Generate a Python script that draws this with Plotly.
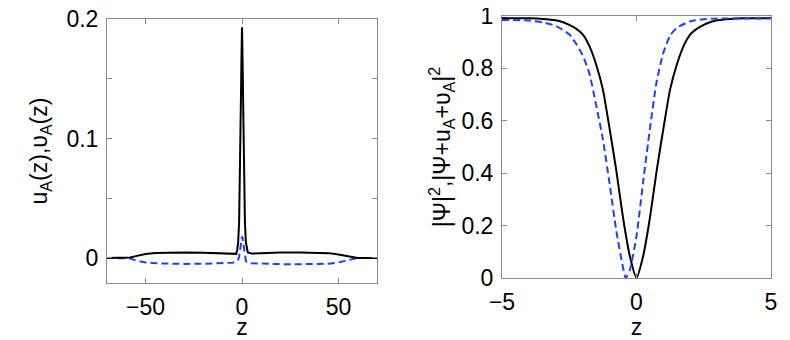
import plotly.graph_objects as go

# ── Left panel: u_A(z) (solid black) and v_A(z) (dashed blue) ────────────────
z_left = [-70, -60, -58, -55, -50, -45, -40, -30, -20, -10, -5, -3, -2.5, -2,
          -1.5, -1, -0.75, -0.5, -0.25, 0, 0.25, 0.5, 0.75, 1, 1.5, 2, 2.5, 3,
          5, 10, 20, 30, 40, 45, 50, 55, 58, 60, 70]
u_A = [0, 0, 0.0003, 0.0015, 0.0033, 0.0041, 0.0044, 0.0045, 0.0043, 0.0038,
       0.0032, 0.0034, 0.0065, 0.013, 0.03, 0.07, 0.1, 0.14, 0.17, 0.193,
       0.17, 0.14, 0.1, 0.07, 0.03, 0.013, 0.0065, 0.0045, 0.0036, 0.004,
       0.0045, 0.0046, 0.0044, 0.004, 0.0028, 0.0013, 0.0003, 0, 0]
v_A = [0, 0, -0.0004, -0.0022, -0.0038, -0.0045, -0.0048, -0.005, -0.0049,
       -0.0045, -0.004, -0.0033, -0.0025, -0.0015, 0.001, 0.006, 0.01, 0.014,
       0.017, 0.018, 0.017, 0.014, 0.01, 0.006, 0.0, -0.0025, -0.0035, -0.004,
       -0.0045, -0.0049, -0.0052, -0.0053, -0.0052, -0.0048, -0.0038, -0.0022,
       -0.0006, 0, 0]

# ── Right panel: |Psi|^2 (solid black) and |Psi+u_A+v_A|^2 (dashed blue) ─────
z_psi = [-5, -4, -3.5, -3, -2.75, -2.5, -2.25, -2, -1.75, -1.5, -1.25, -1,
         -0.75, -0.5, -0.25, 0, 0.25, 0.5, 0.75, 1, 1.25, 1.5, 1.75, 2, 2.25,
         2.5, 2.75, 3, 3.5, 4, 5]
psi2 = [0.992, 0.991, 0.989, 0.984, 0.977, 0.966, 0.952, 0.93, 0.885, 0.815,
        0.72, 0.57, 0.41, 0.23, 0.085, 0.0, 0.085, 0.23, 0.41, 0.57, 0.72,
        0.815, 0.885, 0.93, 0.952, 0.966, 0.977, 0.984, 0.989, 0.991, 0.992]

z_tot = [-5, -4, -3.5, -3, -2.5, -2.25, -2, -1.75, -1.5, -1.25, -1, -0.75,
         -0.5, -0.4, -0.25, 0, 0.25, 0.5, 0.75, 1, 1.25, 1.5, 2, 2.5, 3, 4, 5]
tot2 = [0.985, 0.983, 0.976, 0.962, 0.93, 0.895, 0.85, 0.78, 0.66, 0.53, 0.36,
        0.18, 0.04, 0.0, 0.03, 0.16, 0.37, 0.57, 0.75, 0.86, 0.925, 0.955,
        0.98, 0.988, 0.99, 0.99, 0.99]

left_yticks = [0, 0.05, 0.1, 0.15, 0.2]
left_ytext = ["0", "", "0.1", "", "0.2"]

BLACK = "#000000"
BLUE = "#1f3fff"
AXIS = "#8a8a8a"
FONT = dict(family="Liberation Sans, Arial, sans-serif", size=23, color="#000")

fig = go.Figure()

fig.add_trace(go.Scatter(x=z_left, y=v_A, mode="lines", xaxis="x", yaxis="y",
                         line=dict(color=BLUE, width=2, dash="7px,4px")))
fig.add_trace(go.Scatter(x=z_left, y=u_A, mode="lines", xaxis="x", yaxis="y",
                         line=dict(color=BLACK, width=2)))

fig.add_trace(go.Scatter(x=z_psi, y=psi2, mode="lines", xaxis="x2", yaxis="y2",
                         line=dict(color=BLACK, width=2, shape="spline",
                                   smoothing=0.6)))
fig.add_trace(go.Scatter(x=z_tot, y=tot2, mode="lines", xaxis="x2", yaxis="y2",
                         line=dict(color=BLUE, width=2, dash="7px,4px",
                                   shape="spline", smoothing=0.6)))

_AX = dict(showline=True, linecolor=AXIS, linewidth=1, mirror="ticks",
           ticks="inside", ticklen=5, tickcolor=AXIS, showgrid=False,
           zeroline=False, tickfont=FONT, automargin=False,
           ticklabelstandoff=3, ticklabeloverflow="allow")

# page body keeps its default 8px margin, so the figure is 8px smaller
fig.update_layout(
    width=782, height=332,
    margin=dict(l=0, r=0, t=0, b=0),
    paper_bgcolor="white", plot_bgcolor="white",
    showlegend=False,
    font=FONT,
    xaxis=dict(domain=[0.1266, 0.4719], range=[-70, 70], tickvals=[-50, 0, 50],
               title=dict(text="z", font=FONT, standoff=2), anchor="y", **_AX),
    yaxis=dict(domain=[0.1717, 0.9669], range=[-0.021, 0.2],
               tickvals=left_yticks, ticktext=left_ytext,
               title=dict(text="u<sub>A</sub>(z),υ<sub>A</sub>(z)", font=FONT,
                          standoff=12),
               anchor="x", **_AX),
    xaxis2=dict(domain=[0.6317, 0.9757], range=[-5, 5], tickvals=[-5, 0, 5],
                title=dict(text="z", font=FONT, standoff=2), anchor="y2", **_AX),
    yaxis2=dict(domain=[0.1867, 0.9759], range=[0, 1],
                tickvals=[0, 0.2, 0.4, 0.6, 0.8, 1],
                title=dict(text="|Ψ|<sup>2</sup>,|Ψ+u<sub>A</sub>+υ<sub>A</sub>|<sup>2</sup>",
                           font=FONT, standoff=4),
                anchor="x2", **_AX),
)

fig.write_html("out.html")
